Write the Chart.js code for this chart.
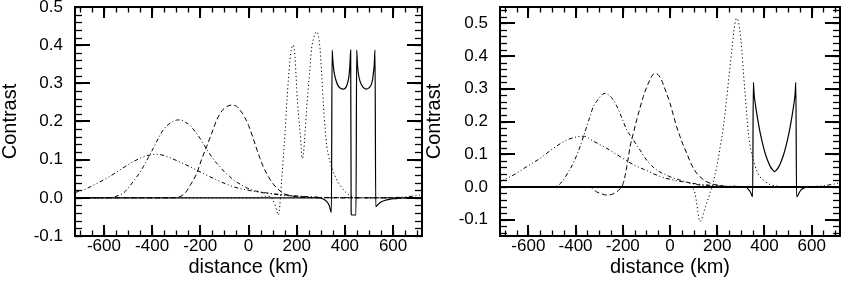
<!DOCTYPE html>
<html><head><meta charset="utf-8">
<script src="https://cdn.jsdelivr.net/npm/chart.js@4.4.1/dist/chart.umd.min.js"></script>
<style>
html,body{margin:0;padding:0;background:#fff;width:842px;height:282px;overflow:hidden}
#c1{position:absolute;left:0;top:0}
#c2{position:absolute;left:424px;top:0}
</style></head><body>
<canvas id="c1" width="426" height="282"></canvas>
<canvas id="c2" width="418" height="282"></canvas>
<script>
// ---- tick labels ----
const xTickValues = [-600, -400, -200, 0, 200, 400, 600];
const yTickValuesLeft = [-0.1, 0.0, 0.1, 0.2, 0.3, 0.4, 0.5];
const yTickValuesRight = [-0.1, 0.0, 0.1, 0.2, 0.3, 0.4, 0.5];

// ---- left panel series (distance km, contrast) ----
const L_solid_x = [-720, 290, 310, 325, 335, 344, 347, 350, 355, 362, 370, 380, 393, 405, 413, 418, 421, 424, 426, 428, 446, 449, 452, 456, 463, 475, 488, 500, 509, 515, 519, 522, 525, 528, 534, 540, 550, 565, 585, 610, 645, 720];
const L_solid_y = [0, 0, -0.003, -0.01, -0.02, -0.038, 0.387, 0.36, 0.33, 0.31, 0.296, 0.288, 0.285, 0.29, 0.305, 0.325, 0.35, 0.387, -0.04, -0.045, -0.045, 0.387, 0.35, 0.325, 0.305, 0.29, 0.285, 0.288, 0.296, 0.31, 0.33, 0.35, 0.387, -0.023, -0.02, -0.016, -0.011, -0.007, -0.004, -0.002, 0, 0];

const L_dot_x = [-720, 40, 70, 90, 100, 110, 118, 124, 130, 138, 145, 152, 158, 165, 172, 179, 186, 193, 200, 207, 214, 219, 223, 228, 235, 241, 248, 255, 262, 269, 276, 283, 290, 297, 304, 311, 318, 325, 332, 338, 348, 359, 370, 380, 395, 408, 420, 435, 460, 720];
const L_dot_y = [0, 0, 0.004, 0.004, -0.004, -0.018, -0.035, -0.045, -0.02, 0.051, 0.11, 0.173, 0.24, 0.305, 0.36, 0.392, 0.4, 0.37, 0.287, 0.22, 0.173, 0.13, 0.103, 0.115, 0.173, 0.23, 0.287, 0.34, 0.392, 0.415, 0.43, 0.435, 0.425, 0.39, 0.32, 0.243, 0.18, 0.135, 0.11, 0.095, 0.075, 0.058, 0.043, 0.033, 0.02, 0.012, 0.006, 0.002, 0, 0];

const L_dash_x = [-720, -320, -290, -264, -240, -215, -195, -174, -152, -132, -110, -90, -70, -50, -35, -15, 0, 20, 34, 48, 61, 75, 89, 103, 117, 131, 145, 170, 220, 300, 720];
const L_dash_y = [0, 0, 0.002, 0.012, 0.035, 0.064, 0.1, 0.134, 0.17, 0.204, 0.228, 0.239, 0.243, 0.24, 0.23, 0.21, 0.19, 0.155, 0.128, 0.103, 0.082, 0.064, 0.049, 0.036, 0.026, 0.018, 0.012, 0.006, 0.002, 0, 0];

const L_dashdot_x = [-720, -590, -561, -540, -520, -500, -478, -458, -437, -416, -395, -375, -354, -333, -312, -295, -280, -262, -243, -222, -201, -184, -167, -150, -134, -118, -100, -80, -63, -35, -7, 30, 75, 145, 220, 320, 720];
const L_dashdot_y = [0, 0, 0.002, 0.006, 0.012, 0.025, 0.043, 0.06, 0.081, 0.105, 0.13, 0.155, 0.178, 0.192, 0.2, 0.204, 0.204, 0.198, 0.19, 0.174, 0.156, 0.138, 0.121, 0.105, 0.092, 0.081, 0.068, 0.057, 0.047, 0.036, 0.026, 0.018, 0.013, 0.008, 0.004, 0.001, 0];

const L_dd3_x = [-720, -680, -644, -589, -534, -478, -423, -381, -350, -326, -271, -201, -132, -63, 6, 75, 158, 230, 300, 400, 560, 640, 690, 720];
const L_dd3_y = [0.014, 0.022, 0.033, 0.051, 0.073, 0.095, 0.11, 0.114, 0.111, 0.105, 0.09, 0.068, 0.047, 0.029, 0.019, 0.012, 0.006, 0.003, 0.001, 0, 0, 0.002, 0.005, 0.008];

// ---- right panel series ----
const R_base_x = [-720, 720];
const R_base_y = [0, 0];

const R_solid_x = [-720, 320, 335, 342, 350, 353, 356, 361, 368, 375, 382, 393, 403, 414, 425, 435, 443, 451, 461, 472, 483, 493, 504, 511, 518, 525, 530, 533, 536, 541, 547, 555, 570, 590, 720];
const R_solid_y = [0, 0, -0.01, -0.018, -0.03, 0.32, 0.285, 0.255, 0.222, 0.192, 0.165, 0.13, 0.103, 0.08, 0.062, 0.052, 0.047, 0.052, 0.062, 0.08, 0.103, 0.13, 0.165, 0.192, 0.222, 0.255, 0.285, 0.32, -0.03, -0.027, -0.018, -0.009, -0.002, 0, 0];

const R_dot_x = [-720, 60, 80, 90, 100, 106, 112, 118, 123, 127, 133, 140, 150, 160, 169, 183, 198, 212, 226, 240, 254, 265, 275, 282, 290, 297, 304, 311, 318, 325, 332, 342, 353, 367, 381, 400, 424, 450, 480, 720];
const R_dot_y = [0, 0, 0.001, 0, -0.008, -0.02, -0.045, -0.075, -0.098, -0.106, -0.1, -0.085, -0.06, -0.04, -0.02, 0.015, 0.062, 0.12, 0.184, 0.27, 0.367, 0.44, 0.5, 0.515, 0.505, 0.47, 0.419, 0.35, 0.286, 0.22, 0.164, 0.115, 0.082, 0.05, 0.031, 0.018, 0.007, 0.003, 0, 0];

const R_dash_x = [-720, -360, -339, -325, -311, -290, -268, -247, -226, -212, -198, -190, -183, -176, -169, -155, -141, -127, -113, -99, -85, -74, -64, -50, -38, -28, -14, 0, 14, 28, 42, 56, 71, 85, 99, 113, 127, 150, 180, 220, 260, 720];
const R_dash_y = [0, 0, 0, -0.007, -0.015, -0.021, -0.025, -0.023, -0.015, -0.006, 0.011, 0.035, 0.062, 0.092, 0.123, 0.165, 0.205, 0.242, 0.276, 0.305, 0.327, 0.342, 0.347, 0.343, 0.33, 0.312, 0.285, 0.256, 0.22, 0.184, 0.155, 0.128, 0.103, 0.078, 0.057, 0.042, 0.031, 0.018, 0.009, 0.003, 0, 0];

const R_dashdot_x = [-720, -510, -494, -473, -452, -431, -410, -395, -381, -367, -353, -339, -325, -310, -296, -285, -275, -258, -240, -226, -212, -198, -183, -169, -155, -141, -127, -113, -99, -78, -56, -35, -14, 14, 42, 70, 99, 150, 200, 300, 720];
const R_dashdot_y = [0, 0, 0, 0.005, 0.021, 0.045, 0.072, 0.097, 0.123, 0.153, 0.184, 0.215, 0.245, 0.262, 0.276, 0.283, 0.286, 0.28, 0.266, 0.248, 0.225, 0.2, 0.174, 0.158, 0.143, 0.128, 0.113, 0.097, 0.082, 0.065, 0.052, 0.043, 0.036, 0.027, 0.021, 0.015, 0.009, 0.004, 0.002, 0, 0];

const R_dd3_x = [-720, -664, -607, -551, -494, -438, -395, -367, -325, -268, -212, -155, -99, -42, 14, 71, 127, 200, 280, 400, 560, 640, 690, 720];
const R_dd3_y = [0.016, 0.036, 0.062, 0.087, 0.118, 0.143, 0.153, 0.155, 0.14, 0.118, 0.093, 0.068, 0.05, 0.032, 0.021, 0.014, 0.008, 0.004, 0.002, 0, 0, 0.003, 0.008, 0.013];

// ---- helpers ----
function pts(xs, ys) { return xs.map((x, i) => ({ x: x, y: ys[i] })); }
const DASH = { solid: [], dot: [1.2, 2.6], dash: [5, 3], dashdot: [4, 2.5, 1, 2.5], dd3: [4, 2.5, 1, 2.5, 1, 2.5] };
function ds(xs, ys, style, w) {
  return { data: pts(xs, ys), borderColor: '#000', borderWidth: w || 1, borderDash: DASH[style],
           pointRadius: 0, fill: false, showLine: true, cubicInterpolationMode: 'monotone' };
}
function range(a, b, s) { const r = []; for (let i = 0; a + i * s <= b + 1e-9; i++) r.push(+(a + i * s).toFixed(4)); return r; }

Chart.defaults.font.family = '"Liberation Sans", Arial, Helvetica, sans-serif';
Chart.defaults.color = '#000';
Chart.defaults.animation = false;

const insideTicks = {
  id: 'insideTicks',
  afterDatasetsDraw(chart, args, o) {
    const ctx = chart.ctx, a = chart.chartArea, x = chart.scales.x, y = chart.scales.y;
    ctx.save();
    ctx.strokeStyle = '#000';
    function seg(x1, y1, x2, y2, w) { ctx.lineWidth = w; ctx.beginPath(); ctx.moveTo(x1, y1); ctx.lineTo(x2, y2); ctx.stroke(); }
    o.xMinor.forEach(v => { const p = Math.round(x.getPixelForValue(v)) + 0.5;
      seg(p, a.bottom, p, a.bottom - o.xMinorLen, 1.3); seg(p, a.top, p, a.top + o.xMinorLen, 1.3); });
    xTickValues.forEach(v => { const p = Math.round(x.getPixelForValue(v));
      seg(p, a.bottom, p, a.bottom - o.xMajorLen, 2); seg(p, a.top, p, a.top + o.xMajorLen, 2); });
    o.yMinor.forEach(v => { const p = Math.round(y.getPixelForValue(v)) + 0.5;
      seg(a.left, p, a.left + o.yMinorLen, p, 1.3); seg(a.right, p, a.right - o.yMinorLen, p, 1.3); });
    o.yMajor.forEach(v => { const p = Math.round(y.getPixelForValue(v));
      seg(a.left, p, a.left + o.yMajorLen, p, 2); seg(a.right, p, a.right - o.yMajorLen, p, 2); });
    ctx.lineWidth = 2;
    ctx.strokeRect(a.left, a.top, a.right - a.left, a.bottom - a.top);
    ctx.restore();
  }
};

function makeChart(id, datasets, yMin, yMax, yTicks, yWidth, padRight) {
  return new Chart(document.getElementById(id), {
    type: 'scatter',
    data: { datasets: datasets },
    plugins: [insideTicks],
    options: {
      responsive: false, devicePixelRatio: 1,
      layout: { padding: { left: 0, top: 7, right: padRight, bottom: 0 } },
      plugins: { legend: { display: false }, tooltip: { enabled: false },
        insideTicks: { xMinor: range(-700, 700, 50), yMinor: range(Math.ceil(yMin * 50) / 50, yMax, 0.02), yMajor: yTicks,
                       xMajorLen: 11, xMinorLen: 5.5, yMajorLen: 15, yMinorLen: 7 } },
      scales: {
        x: { type: 'linear', min: -720, max: 720,
             grid: { display: false, drawTicks: false }, border: { display: false },
             afterBuildTicks: s => { s.ticks = xTickValues.map(v => ({ value: v })); },
             afterFit: s => { s.height = 46; s.paddingLeft = 0; s.paddingRight = 0; },
             ticks: { font: { size: 17 }, padding: 0, maxRotation: 0, autoSkip: false, callback: v => String(v) },
             title: { display: true, text: 'distance (km)', font: { size: 20, lineHeight: 1 }, padding: { top: 0, bottom: 5 } } },
        y: { type: 'linear', min: yMin, max: yMax,
             grid: { display: false, drawTicks: false }, border: { display: false },
             afterBuildTicks: s => { s.ticks = yTicks.map(v => ({ value: v })); },
             afterFit: s => { s.width = yWidth; s.paddingTop = 0; s.paddingBottom = 0; },
             ticks: { font: { size: 17 }, padding: 12, autoSkip: false, callback: v => Number(v).toFixed(1) },
             title: { display: true, text: 'Contrast', font: { size: 20, lineHeight: 1 }, padding: { top: 0, bottom: 0 } } }
      }
    }
  });
}

makeChart('c1', [
  ds(L_dd3_x, L_dd3_y, 'dd3'),
  ds(L_dashdot_x, L_dashdot_y, 'dashdot'),
  ds(L_dash_x, L_dash_y, 'dash'),
  ds(L_dot_x, L_dot_y, 'dot'),
  ds(L_solid_x, L_solid_y, 'solid', 1.2)
], -0.1, 0.5, yTickValuesLeft, 75, 4);

makeChart('c2', [
  ds(R_base_x, R_base_y, 'solid', 2),
  ds(R_dd3_x, R_dd3_y, 'dd3'),
  ds(R_dashdot_x, R_dashdot_y, 'dashdot'),
  ds(R_dash_x, R_dash_y, 'dash'),
  ds(R_dot_x, R_dot_y, 'dot'),
  ds(R_solid_x, R_solid_y, 'solid', 1.2)
], -0.15, 0.55, yTickValuesRight, 76, 2);
</script>
</body></html>
